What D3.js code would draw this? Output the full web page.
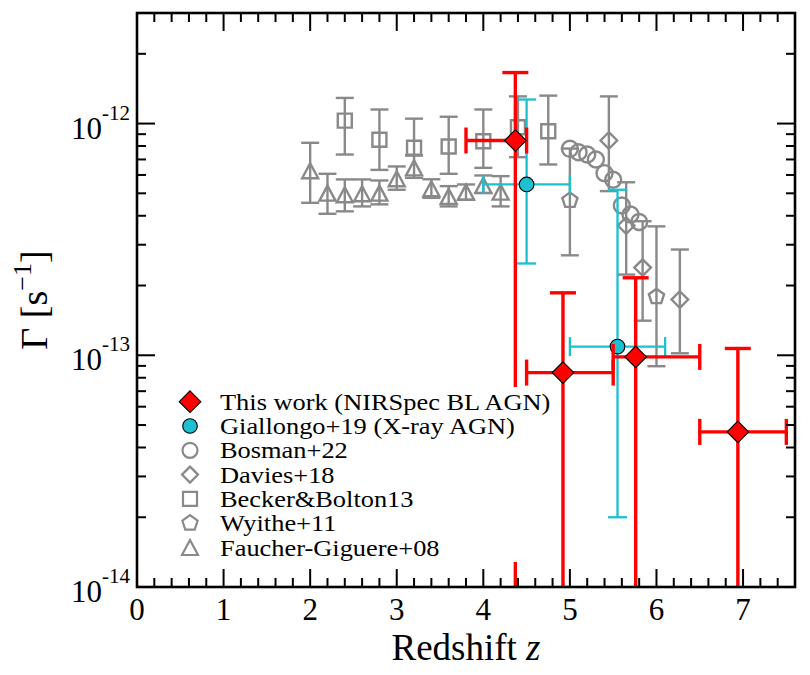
<!DOCTYPE html>
<html>
<head>
<meta charset="utf-8">
<script src="https://cdn.jsdelivr.net/npm/d3@7"></script>
<style>
  html, body { margin: 0; padding: 0; background: #fff; }
  svg text { font-family: "Liberation Serif", "DejaVu Serif", serif; fill: #000; }
</style>
</head>
<body>
<svg id="chart" width="810" height="675"></svg>
<script>
// ---------------- DATA ----------------
const xTicks = [0, 1, 2, 3, 4, 5, 6, 7];
const yTickExps = [-14, -13, -12];

// Faucher-Giguere+08 (triangles)
const fgZ  = [2.0, 2.2, 2.4, 2.6, 2.8, 3.0, 3.2, 3.4, 3.6, 3.8, 4.0, 4.2];
const fgG  = [6.26e-13, 5.01e-13, 4.93e-13, 4.98e-13, 5.01e-13, 5.78e-13, 6.44e-13, 5.23e-13, 4.85e-13, 5.06e-13, 5.41e-13, 5.06e-13];
const fgHi = [8.26e-13, 6.07e-13, 5.74e-13, 5.74e-13, 5.68e-13, 6.53e-13, 7.28e-13, 5.75e-13, 5.37e-13, 5.46e-13, 5.97e-13, 5.93e-13];
const fgLo = [4.55e-13, 4.08e-13, 4.18e-13, 4.39e-13, 4.48e-13, 5.18e-13, 5.83e-13, 4.78e-13, 4.39e-13, 4.69e-13, 5.01e-13, 4.39e-13];

// Becker & Bolton 13 (squares)
const bbZ  = [2.4, 2.8, 3.2, 3.6, 4.0, 4.4, 4.75];
const bbG  = [1.03e-12, 8.51e-13, 7.86e-13, 7.96e-13, 8.39e-13, 9.64e-13, 9.27e-13];
const bbHi = [1.29e-12, 1.15e-12, 1.05e-12, 1.07e-12, 1.15e-12, 1.31e-12, 1.32e-12];
const bbLo = [7.35e-13, 6.31e-13, 7.30e-13, 6.07e-13, 6.44e-13, 7.16e-13, 6.66e-13];

// Bosman+22 (open circles)
const boZ = [5.0, 5.1, 5.2, 5.3, 5.4, 5.5, 5.6, 5.7, 5.8];
const boG = [7.78e-13, 7.52e-13, 7.35e-13, 7.00e-13, 6.11e-13, 5.72e-13, 4.43e-13, 4.05e-13, 3.76e-13];

// Davies+18 (open diamonds)
const daZ  = [5.45, 5.65, 5.84, 6.27];
const daG  = [8.45e-13, 3.63e-13, 2.39e-13, 1.74e-13];
const daHi = [1.31e-12, 5.58e-13, 3.79e-13, 2.86e-13];
const daLo = [5.11e-13, 2.23e-13, 1.41e-13, 1.02e-13];

// Wyithe+11 (pentagons)
const wyZ  = [5.0, 6.0];
const wyG  = [4.66e-13, 1.79e-13];
const wyHi = [7.80e-13, 3.60e-13];
const wyLo = [2.70e-13, 8.97e-14];

// Giallongo+19 (X-ray AGN)
const giZ   = [4.5, 5.55];
const giZlo = [4.0, 5.0];
const giZhi = [5.0, 6.1];
const giG   = [5.46e-13, 1.09e-13];
const giHi  = [1.27e-12, 5.18e-13];
const giLo  = [2.49e-13, 2.00e-14];

// This work (NIRSpec BL AGN); lower errors extend below the axis
const twZ   = [4.37, 4.92, 5.76, 6.94];
const twZlo = [3.8, 4.5, 5.5, 6.5];
const twZhi = [4.5, 5.5, 6.5, 7.5];
const twG   = [8.45e-13, 8.42e-14, 9.84e-14, 4.67e-14];
const twHi  = [1.66e-12, 1.86e-13, 2.16e-13, 1.07e-13];
const twLo  = [null, null, null, null];

const legendLabels = [
  "This work (NIRSpec BL AGN)",
  "Giallongo+19 (X-ray AGN)",
  "Bosman+22",
  "Davies+18",
  "Becker&Bolton13",
  "Wyithe+11",
  "Faucher-Giguere+08"
];

// ---------------- LAYOUT ----------------
const L = 137, R = 795, T = 13, B = 587;
const GRAY = "#898989", RED = "#ff0000", CYAN = "#1dbfd0";

const svg = d3.select("#chart");
const x = d3.scaleLinear().domain([0, 7.6]).range([L, R]);
const y = d3.scaleLog().domain([1e-14, 3e-12]).range([B, T]);

svg.append("defs").append("clipPath").attr("id", "clip")
  .append("rect").attr("x", L).attr("y", T).attr("width", R - L).attr("height", B - T);

const plot = svg.append("g").attr("clip-path", "url(#clip)");

// marker shapes
function diamondPath(h) { return `M0,${-h}L${h},0L0,${h}L${-h},0Z`; }
function squarePath(s) { const a = s / 2; return `M${-a},${-a}H${a}V${a}H${-a}Z`; }
function trianglePath(w, hgt) { return `M0,${-hgt/2}L${w/2},${hgt/2}L${-w/2},${hgt/2}Z`; }
function pentagonPath(r) {
  const pts = d3.range(5).map(i => {
    const a = -Math.PI / 2 + i * 2 * Math.PI / 5;
    return [r * Math.cos(a), r * Math.sin(a)];
  });
  return "M" + pts.map(p => p.join(",")).join("L") + "Z";
}
const circ = r => `M${r},0A${r},${r} 0 1,1 ${-r},0A${r},${r} 0 1,1 ${r},0Z`;

function drawSeries(opts) {
  const g = plot.append("g");
  const n = opts.z.length;
  for (let i = 0; i < n; i++) {
    const cx = x(opts.z[i]);
    const cy = y(opts.g[i]);
    if (opts.hi) {
      const yt = y(opts.hi[i]);
      const yb = (opts.lo[i] === null) ? B + 10 : y(opts.lo[i]);
      g.append("line").attr("x1", cx).attr("x2", cx).attr("y1", yt).attr("y2", yb)
        .attr("stroke", opts.color).attr("stroke-width", opts.lw);
      g.append("line").attr("x1", cx - opts.cap).attr("x2", cx + opts.cap).attr("y1", yt).attr("y2", yt)
        .attr("stroke", opts.color).attr("stroke-width", opts.lw);
      if (opts.lo[i] !== null) {
        g.append("line").attr("x1", cx - opts.cap).attr("x2", cx + opts.cap).attr("y1", yb).attr("y2", yb)
          .attr("stroke", opts.color).attr("stroke-width", opts.lw);
      }
    }
    if (opts.zlo) {
      const xl = x(opts.zlo[i]), xr = x(opts.zhi[i]);
      g.append("line").attr("x1", xl).attr("x2", xr).attr("y1", cy).attr("y2", cy)
        .attr("stroke", opts.color).attr("stroke-width", opts.lw);
      [xl, xr].forEach(xx => {
        g.append("line").attr("x1", xx).attr("x2", xx).attr("y1", cy - opts.cap).attr("y2", cy + opts.cap)
          .attr("stroke", opts.color).attr("stroke-width", opts.lw);
      });
    }
  }
  for (let i = 0; i < n; i++) {
    g.append("path").attr("d", opts.shape)
      .attr("transform", `translate(${x(opts.z[i])},${y(opts.g[i])})`)
      .attr("fill", opts.fill).attr("stroke", opts.stroke).attr("stroke-width", opts.mlw);
  }
}

drawSeries({ z: fgZ, g: fgG, hi: fgHi, lo: fgLo, color: GRAY, lw: 2.4, cap: 9,
  shape: trianglePath(16, 15), fill: "none", stroke: GRAY, mlw: 2.4 });
drawSeries({ z: bbZ, g: bbG, hi: bbHi, lo: bbLo, color: GRAY, lw: 2.4, cap: 9,
  shape: squarePath(14), fill: "none", stroke: GRAY, mlw: 2.4 });
drawSeries({ z: wyZ, g: wyG, hi: wyHi, lo: wyLo, color: GRAY, lw: 2.4, cap: 9,
  shape: pentagonPath(8), fill: "none", stroke: GRAY, mlw: 2.4 });
drawSeries({ z: daZ, g: daG, hi: daHi, lo: daLo, color: GRAY, lw: 2.4, cap: 9,
  shape: diamondPath(8.3), fill: "none", stroke: GRAY, mlw: 2.4 });
drawSeries({ z: boZ, g: boG, color: GRAY, lw: 2.4, cap: 9,
  shape: circ(8), fill: "none", stroke: GRAY, mlw: 2.4 });
drawSeries({ z: giZ, g: giG, hi: giHi, lo: giLo, zlo: giZlo, zhi: giZhi, color: CYAN, lw: 2.3, cap: 9.5,
  shape: circ(7.3), fill: CYAN, stroke: "#000", mlw: 1.1 });
drawSeries({ z: twZ, g: twG, hi: twHi, lo: twLo, zlo: twZlo, zhi: twZhi, color: RED, lw: 3.4, cap: 13,
  shape: diamondPath(10.8), fill: RED, stroke: "#000", mlw: 1.1 });

// ---------------- LEGEND (white box covers marks behind it) ----------------
const leg = svg.append("g");
leg.append("rect").attr("x", 170).attr("y", 387).attr("width", 387).attr("height", 175).attr("fill", "#fff");
const legShapes = [
  { d: diamondPath(10.8), fill: RED, stroke: "#000", lw: 1.1 },
  { d: circ(7.3), fill: CYAN, stroke: "#000", lw: 1.1 },
  { d: circ(7.5), fill: "none", stroke: GRAY, lw: 2.2 },
  { d: diamondPath(8), fill: "none", stroke: GRAY, lw: 2.2 },
  { d: squarePath(14), fill: "none", stroke: GRAY, lw: 2.2 },
  { d: pentagonPath(8), fill: "none", stroke: GRAY, lw: 2.2 },
  { d: trianglePath(16, 15), fill: "none", stroke: GRAY, lw: 2.2 }
];
legendLabels.forEach((lab, i) => {
  const ly = 401.7 + i * 24.3;
  const s = legShapes[i];
  leg.append("path").attr("d", s.d).attr("transform", `translate(190,${ly})`)
    .attr("fill", s.fill).attr("stroke", s.stroke).attr("stroke-width", s.lw);
  leg.append("text").attr("transform", `translate(220,${ly + 8}) scale(1.1,1)`)
    .attr("font-size", 24).text(lab);
});

// ---------------- AXES ----------------
const axes = svg.append("g");
const majorLen = 18, minorLen = 9;
const xMinor = d3.range(0, 7.61, 0.2).filter(v => Math.abs(v - Math.round(v)) > 1e-6);
xTicks.forEach(v => {
  axes.append("line").attr("x1", x(v)).attr("x2", x(v)).attr("y1", B).attr("y2", B - majorLen).attr("stroke", "#000").attr("stroke-width", 2);
  axes.append("line").attr("x1", x(v)).attr("x2", x(v)).attr("y1", T).attr("y2", T + majorLen).attr("stroke", "#000").attr("stroke-width", 2);
  axes.append("text").attr("x", x(v)).attr("y", 620).attr("text-anchor", "middle")
    .attr("font-size", 31).text(v);
});
xMinor.forEach(v => {
  axes.append("line").attr("x1", x(v)).attr("x2", x(v)).attr("y1", B).attr("y2", B - minorLen).attr("stroke", "#000").attr("stroke-width", 2);
  axes.append("line").attr("x1", x(v)).attr("x2", x(v)).attr("y1", T).attr("y2", T + minorLen).attr("stroke", "#000").attr("stroke-width", 2);
});
yTickExps.forEach(e => {
  const v = Math.pow(10, e), yy = y(v);
  axes.append("line").attr("x1", L).attr("x2", L + majorLen).attr("y1", yy).attr("y2", yy).attr("stroke", "#000").attr("stroke-width", 2);
  axes.append("line").attr("x1", R).attr("x2", R - majorLen).attr("y1", yy).attr("y2", yy).attr("stroke", "#000").attr("stroke-width", 2);
  const t = axes.append("text").attr("x", 130).attr("y", yy + 15).attr("text-anchor", "end").attr("font-size", 31);
  t.append("tspan").text("10");
  t.append("tspan").attr("font-size", 21).attr("dy", -19).text(String(e));
  for (let m = 2; m <= 9; m++) {
    const mv = m * v;
    if (mv > 3.0001e-12) continue;
    const my = y(mv);
    axes.append("line").attr("x1", L).attr("x2", L + minorLen).attr("y1", my).attr("y2", my).attr("stroke", "#000").attr("stroke-width", 2);
    axes.append("line").attr("x1", R).attr("x2", R - minorLen).attr("y1", my).attr("y2", my).attr("stroke", "#000").attr("stroke-width", 2);
  }
});
axes.append("rect").attr("x", L).attr("y", T).attr("width", R - L).attr("height", B - T)
  .attr("fill", "none").attr("stroke", "#000").attr("stroke-width", 2.6);

// axis titles
const xt = svg.append("text").attr("x", (L + R) / 2).attr("y", 660).attr("text-anchor", "middle").attr("font-size", 37);
xt.append("tspan").text("Redshift ");
xt.append("tspan").attr("font-style", "italic").text("z");

const yt = svg.append("text").attr("transform", "translate(47,300) rotate(-90)").attr("text-anchor", "middle").attr("font-size", 38);
yt.append("tspan").text("Γ [s");
yt.append("tspan").attr("font-size", 26).attr("dy", -16).text("−1");
yt.append("tspan").attr("dy", 16).text("]");
</script>
</body>
</html>
